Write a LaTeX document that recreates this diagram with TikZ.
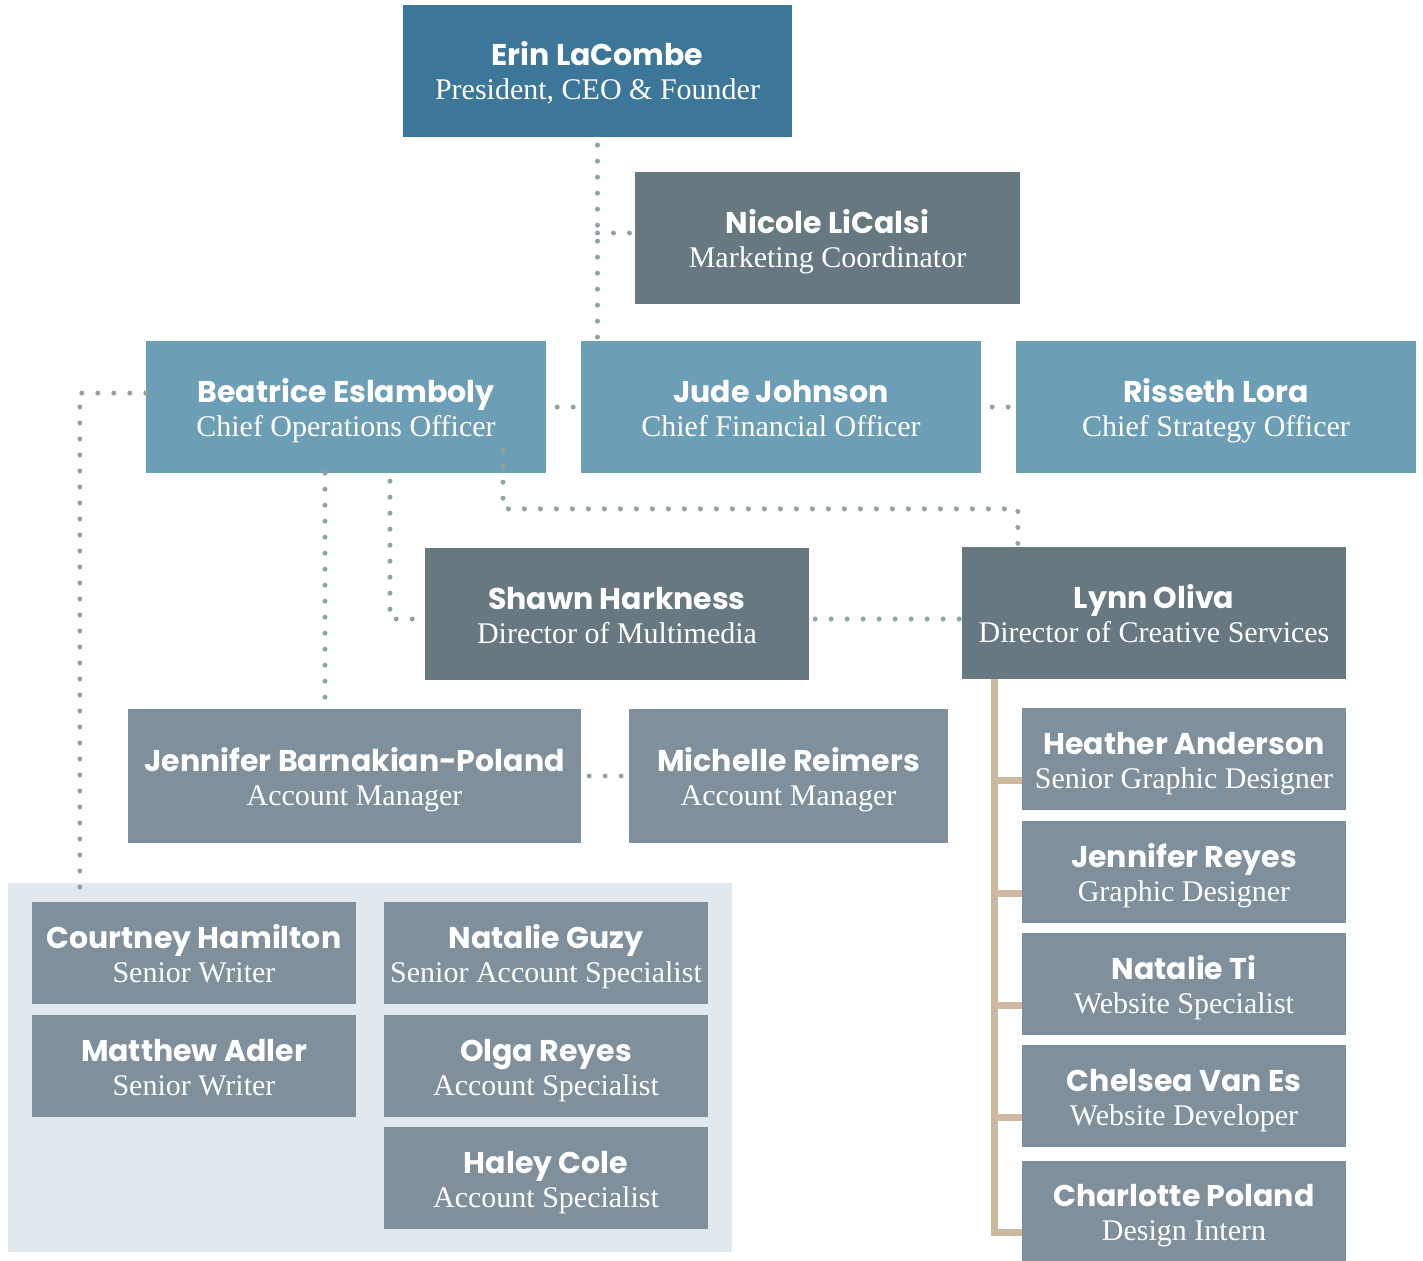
\documentclass[tikz,border=0pt]{standalone}
\usepackage{fontspec}
\newfontfamily\namefont{Poppins}
\newfontfamily\titlefont{Liberation Serif}
\definecolor{ceoc}{RGB}{60,118,153}
\definecolor{lightc}{RGB}{108,158,182}
\definecolor{darkc}{RGB}{103,120,128}
\definecolor{medc}{RGB}{127,144,156}
\definecolor{panelc}{RGB}{225,232,238}
\definecolor{dotc}{RGB}{143,165,152}
\definecolor{tanc}{RGB}{205,185,160}
\tikzset{
  pbox/.style={rectangle, inner sep=0pt, draw=none},
  pname/.style={anchor=base, inner sep=0pt, text=white, font=\namefont\bfseries\fontsize{30}{32}\selectfont},
  ptitle/.style={anchor=base, inner sep=0pt, text=white, font=\titlefont\fontsize{30}{32}\selectfont},
  dots/.style={draw=dotc, line width=5pt, line cap=round, dash pattern=on 0pt off 16pt},
  tanline/.style={draw=tanc, line width=7pt},
}
\newcommand\pbox[8]{%
  \node[pbox, fill=#6, minimum width={#4pt-#2pt}, minimum height={#5pt-#3pt}] (#1) at ({(#2+#4)/2},{(#3+#5)/2}) {};
  \node[pname] (#1-n) at ([yshift=5pt]#1.center) {#7};
  \node[ptitle] (#1-t) at ([yshift=-29pt]#1.center) {#8};
}
\begin{document}
\begin{tikzpicture}[x=1pt,y=-1pt]
\useasboundingbox (0,0) rectangle (1423,1260);
\clip (0,0) rectangle (1423,1260);
\node[pbox, fill=panelc, minimum width=724pt, minimum height=369pt] (panel) at (370,1067.5) {};
\pbox{erin}{403}{5}{792}{137}{ceoc}{Erin LaCombe}{President, CEO \& Founder}
\pbox{nicole}{635}{172}{1020}{304}{darkc}{Nicole LiCalsi}{Marketing Coordinator}
\pbox{beatrice}{146}{341}{546}{473}{lightc}{Beatrice Eslamboly}{Chief Operations Officer}
\pbox{jude}{581}{341}{981}{473}{lightc}{Jude Johnson}{Chief Financial Officer}
\pbox{risseth}{1016}{341}{1416}{473}{lightc}{Risseth Lora}{Chief Strategy Officer}
\pbox{shawn}{425}{548}{809}{680}{darkc}{Shawn Harkness}{Director of Multimedia}
\pbox{lynn}{962}{547}{1346}{679}{darkc}{Lynn Oliva}{Director of Creative Services}
\pbox{jbp}{128}{709}{581}{843}{medc}{Jennifer Barnakian-Poland}{Account Manager}
\pbox{michelle}{629}{709}{948}{843}{medc}{Michelle Reimers}{Account Manager}
\pbox{courtney}{32}{902}{356}{1004}{medc}{Courtney Hamilton}{Senior Writer}
\pbox{matthew}{32}{1015}{356}{1117}{medc}{Matthew Adler}{Senior Writer}
\pbox{nguzy}{384}{902}{708}{1004}{medc}{Natalie Guzy}{Senior Account Specialist}
\pbox{olga}{384}{1015}{708}{1117}{medc}{Olga Reyes}{Account Specialist}
\pbox{haley}{384}{1127}{708}{1229}{medc}{Haley Cole}{Account Specialist}
\pbox{heather}{1022}{708}{1346}{810}{medc}{Heather Anderson}{Senior Graphic Designer}
\pbox{jreyes}{1022}{821}{1346}{923}{medc}{Jennifer Reyes}{Graphic Designer}
\pbox{nti}{1022}{933}{1346}{1035}{medc}{Natalie Ti}{Website Specialist}
\pbox{chelsea}{1022}{1045}{1346}{1147}{medc}{Chelsea Van Es}{Website Developer}
\pbox{charlotte}{1022}{1161}{1346}{1262}{medc}{Charlotte Poland}{Design Intern}
% dotted connectors
\draw[dots] ([yshift=-8pt]erin.south) -- (erin.south |- jude.north);
\draw[dots] ([yshift=5pt]nicole.west -| erin.south) -- ([yshift=5pt]nicole.west);
\draw[dots] ([xshift=11pt]beatrice.east) -- (jude.west);
\draw[dots] ([xshift=11pt]jude.east) -- (risseth.west);
\draw[dots] ([yshift=14pt]beatrice.west) -| ([xshift=72pt,yshift=-8pt]panel.north west);
\draw[dots] ([xshift=-29.5pt]jbp.north |- beatrice.south) -- ([xshift=-29.5pt,yshift=6pt]jbp.north);
\draw[dots] ([xshift=44pt,yshift=-8pt]beatrice.south) |- ([yshift=-5pt]shawn.west);
\coordinate (lynnin) at ([xshift=56pt]lynn.north west);
\draw[dots] ([xshift=157pt,yshift=23pt]beatrice.south) |- ([yshift=38pt]lynnin) -- (lynnin);
\draw[dots] ([yshift=-5pt,xshift=6pt]shawn.east) -- ([yshift=-5pt]shawn.east -| lynn.west);
\draw[dots] ([xshift=8pt]jbp.east) -- (michelle.west);
% tan connectors
\coordinate (trunk) at ([xshift=33pt]lynn.south west);
\draw[tanline] (trunk) |- ([yshift=-21pt]charlotte.west);
\foreach \p in {heather,jreyes,nti,chelsea}
  \draw[tanline] ([yshift=-21pt]\p.west -| trunk) -- ([yshift=-21pt]\p.west);
\end{tikzpicture}
\end{document}
